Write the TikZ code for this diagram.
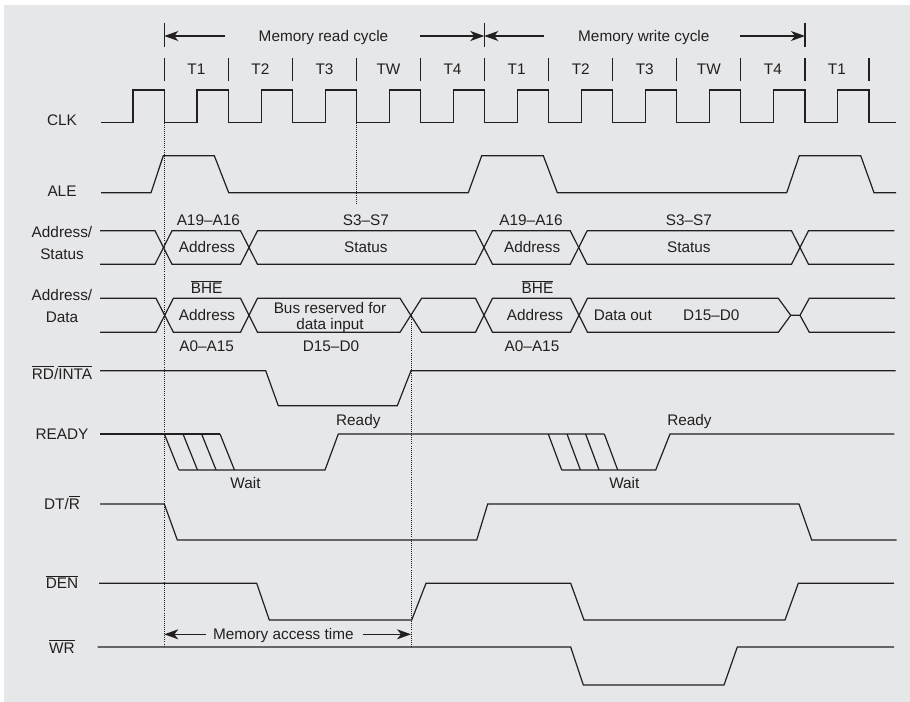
\documentclass[tikz,border=0pt]{standalone}
\usepackage{fontspec}
\setmainfont{Liberation Sans}
\usetikzlibrary{arrows.meta}
\definecolor{panel}{HTML}{E6E7E9}
\definecolor{ink}{HTML}{231F20}
\newcommand\nsig[1]{$\overline{\hbox{#1}}$}

\begin{document}
\begin{tikzpicture}[
	x=0.75pt, y=-0.75pt,
	sig/.style={draw=ink, line width=0.9pt, line join=miter},
	guide/.style={draw=ink, densely dotted, line width=0.55pt},
	tick/.style={draw=ink, line width=0.9pt},
	lbl/.style={text=ink, font=\fontsize{11.5}{13.5}\selectfont, inner sep=1pt},
	signame/.style={lbl, align=center, font=\fontsize{11.5}{16.5}\selectfont},
	span/.style={-{Stealth[length=10.5pt, width=7.5pt, inset=3pt]}, draw=ink, line width=0.9pt},
	]
	\def\per{64.06}
	\def\tz{164.3}
	
	\useasboundingbox (0,0) rectangle (910,702);
	\fill[panel] (4,5) rectangle (910,702);
	
	% signal names
	\node[signame] (clk)  at (62,120.7) {CLK};
	\node[signame] (ale)  at (62,191.7) {ALE};
	\node[signame] (adst) at (62,243)   {Address/\\Status};
	\node[signame] (addt) at (62,306.5) {Address/\\Data};
	\node[signame] (rd)   at (62,372.5) {\nsig{RD}/\nsig{INTA}};
	\node[signame] (rdy)  at (62,434)   {READY};
	\node[signame] (dtr)  at (62,502.5) {DT/\nsig{R}};
	\node[signame] (den)  at (62,582)   {\nsig{DEN}};
	\node[signame] (wr)   at (62,646.5) {\nsig{WR}};
	
	% cycle spans
	\coordinate (rdA) at (164.3,36);
	\coordinate (rdB) at (484.3,36);
	\coordinate (wrB) at (805,36);
	\foreach \c in {rdA,rdB,wrB}
		\draw[tick] (\c) ++(0,-13) -- ++(0,24);
	\node[lbl] (rdcyc) at (323.5,37.5) {Memory read cycle};
	\node[lbl] (wrcyc) at (643.8,37.5) {Memory write cycle};
	\coordinate (rdL) at (225,36);
	\coordinate (rdR) at (420,36);
	\coordinate (wrL) at (544.3,36);
	\coordinate (wrR) at (740,36);
	\draw[span] (rdL) -- (rdA);
	\draw[span] (rdR) -- (rdB);
	\draw[span] (wrL) -- (rdB);
	\draw[span] (wrR) -- (wrB);
	
	% T states
	\foreach \k in {0,...,11}
		\draw[tick] ({\tz+\k*\per},58) -- ++(0,23);
	\foreach \t [count=\k from 0] in {T1,T2,T3,TW,T4,T1,T2,T3,TW,T4,T1}
		\node[lbl] (ts\k) at ({\tz+(\k+0.5)*\per},69.3) {\t};
	
	% CLK
	\draw[sig] (101,122.7) \foreach \k in {0,...,11}{
		-- ({\tz+\k*\per-31.3},122.7) -- ++(0,-32.7)
		-- ({\tz+\k*\per},90) -- ++(0,32.7)} -- (895.7,122.7);
	
	% ALE
	\draw[sig] (101,192.7) -- (151,192.7) -- (163.3,155.7) -- (214.3,155.7)
		-- (228.7,192.7) -- (468.3,192.7) -- (481.7,155.7) -- (543.3,155.7)
		-- (557.3,192.7) -- (786.7,192.7) -- (799.3,155.7) -- (860.7,155.7)
		-- (874,192.7) -- (896,192.7);
	
	% Address/Status
	\draw[sig] (100,230.7) -- (155,230.7) -- (172,264.3) -- (240.5,264.3)
		-- (257.5,230.7) -- (475.5,230.7) -- (492.5,264.3) -- (570.2,264.3)
		-- (587.2,230.7) -- (791.5,230.7) -- (808.5,264.3) -- (894.3,264.3);
	\draw[sig] (100,264.3) -- (155,264.3) -- (172,230.7) -- (240.5,230.7)
		-- (257.5,264.3) -- (475.5,264.3) -- (492.5,230.7) -- (570.2,230.7)
		-- (587.2,264.3) -- (791.5,264.3) -- (808.5,230.7) -- (894.3,230.7);
	\node[lbl] (as1) at (208.3,220.7) {A19--A16};
	\node[lbl] (as2) at (207,247.5)   {Address};
	\node[lbl] (as3) at (365.8,220.7) {S3--S7};
	\node[lbl] (as4) at (365.8,247.5) {Status};
	\node[lbl] (as5) at (531,220.7)   {A19--A16};
	\node[lbl] (as6) at (532.2,247.5) {Address};
	\node[lbl] (as7) at (688.8,220.7) {S3--S7};
	\node[lbl] (as8) at (688.8,247.5) {Status};
	
	% Address/Data
	\draw[sig] (100,298.3) -- (156,298.3) -- (173.4,332.3) -- (240.5,332.3)
		-- (257.5,298.3) -- (400,298.3) -- (421.6,332.3) -- (475.5,332.3)
		-- (492.5,298.3) -- (570.5,298.3) -- (587.5,332.3) -- (778.3,332.3)
		-- (790.7,315.3) -- (800,315.3) -- (809.3,298.3) -- (895,298.3);
	\draw[sig] (100,332.3) -- (156,332.3) -- (173.4,298.3) -- (240.5,298.3)
		-- (257.5,332.3) -- (400,332.3) -- (421.6,298.3) -- (475.5,298.3)
		-- (492.5,332.3) -- (570.5,332.3) -- (587.5,298.3) -- (778.3,298.3)
		-- (790.7,315.3) (800,315.3) -- (809.3,332.3) -- (895,332.3);
	\node[lbl] (ad1) at (206.7,287.3) {\nsig{BHE}};
	\node[lbl] (ad2) at (207,315.3)   {Address};
	\node[lbl] (ad3) at (206.7,346)   {A0--A15};
	\node[lbl, align=center, font=\fontsize{11.5}{12}\selectfont]
		(ad4) at (330,318) {Bus reserved for\\data input};
	\node[lbl] (ad5) at (331,346)     {D15--D0};
	\node[lbl] (ad6) at (537.5,287.3) {\nsig{BHE}};
	\node[lbl] (ad7) at (535,315.3)   {Address};
	\node[lbl] (ad8) at (532,346)     {A0--A15};
	\node[lbl] (ad9) at (622.8,315.3) {Data out};
	\node[lbl] (ad10) at (711.3,315.3) {D15--D0};
	
	% RD/INTA
	\draw[sig] (100,370.7) -- (265.7,370.7) -- (278.3,405.7) -- (397.3,405.7)
		-- (411,370.7) -- (895.7,370.7);
	
	% READY
	\draw[sig] (100,434) -- (220,434);
	\foreach \s in {164.3,183,201.6,220}
		\draw[sig] (\s,434) -- ++(14.5,36);
	\draw[sig] (178.8,470) -- (325,470) -- (338.3,434) -- (604.3,434);
	\foreach \s in {548.3,567,585.6,604.3}
		\draw[sig] (\s,434) -- ++(13.4,36);
	\draw[sig] (561.7,470) -- (655.7,470) -- (670,434) -- (894.3,434);
	\node[lbl] (ry1) at (358.3,421.5) {Ready};
	\node[lbl] (wt1) at (245.5,483.3) {Wait};
	\node[lbl] (ry2) at (689.5,421.5) {Ready};
	\node[lbl] (wt2) at (624.3,483.3) {Wait};
	
	% DT/R
	\draw[sig] (100,504) -- (164.3,504) -- (177.3,540) -- (476.7,540)
		-- (487.7,504) -- (799,504) -- (811.7,540) -- (896.7,540);
	
	% DEN
	\draw[sig] (99,583.3) -- (256.7,583.3) -- (269.3,620) -- (411.7,620)
		-- (426,583.3) -- (570.7,583.3) -- (584,620) -- (785,620)
		-- (798.3,583.3) -- (894,583.3);
	
	% WR
	\draw[sig] (97.7,647) -- (570.7,647) -- (583.3,685) -- (724,685)
		-- (737.3,647) -- (894,647);
	
	% guides
	\draw[guide] (164.3,122.7) -- (164.3,646.7);
	\draw[guide] (356.7,122.7) -- (356.7,205);
	\draw[guide] (411,315.3) -- (411,646.7);
	
	% access time
	\coordinate (acA) at (164.3,634.3);
	\coordinate (acB) at (411,634.3);
	\coordinate (acL) at (206,634.3);
	\coordinate (acR) at (362.7,634.3);
	\node[lbl] (acc) at (283.3,635.5) {Memory access time};
	\draw[span] (acL) -- (acA);
	\draw[span] (acR) -- (acB);
	
\end{tikzpicture}
\end{document}
